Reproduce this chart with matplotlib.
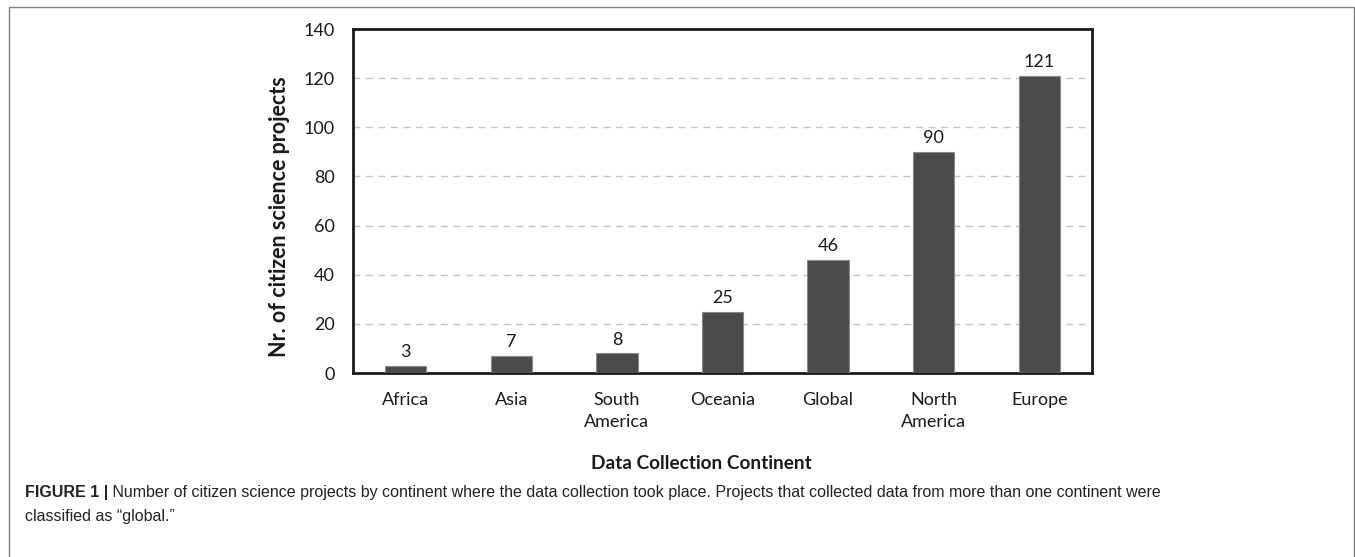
import matplotlib

matplotlib.use("Agg")
import matplotlib.pyplot as plt
from matplotlib import font_manager
from matplotlib.patches import Rectangle

# Data
continents = ["Africa", "Asia", "South\nAmerica", "Oceania", "Global", "North\nAmerica", "Europe"]
projects = [3, 7, 8, 25, 46, 90, 121]
y_ticks = [0, 20, 40, 60, 80, 100, 120, 140]

caption_bold = "FIGURE 1 |"
caption_lines = [
    " Number of citizen science projects by continent where the data collection took place. "
    "Projects that collected data from more than one continent were",
    "classified as \u201cglobal.\u201d",
]

available = {f.name for f in font_manager.fontManager.ttflist}
chart_font = "Lato" if "Lato" in available else "DejaVu Sans"
caption_font = "Liberation Sans Narrow" if "Liberation Sans Narrow" in available else "Liberation Sans"

W, H, DPI = 1355, 557, 100
fig = plt.figure(figsize=(W / DPI, H / DPI), dpi=DPI)

# outer frame of the figure panel (bottom edge runs off the image)
fig.patches.append(Rectangle((9 / W, -0.05), 1345 / W, 0.05 + 550 / H, transform=fig.transFigure,
                             fill=False, edgecolor="#7f7f7f", linewidth=1.0))

ax = fig.add_axes([353 / W, 1 - 373 / H, (1092 - 353) / W, (373 - 29) / H])
x = range(len(continents))
bars = ax.bar(x, projects, width=0.39, color="#4b4b4b", edgecolor="#8a8a8a", linewidth=0.8, zorder=3)

for rect, v in zip(bars, projects):
    ax.annotate(str(v), (rect.get_x() + rect.get_width() / 2, v), xytext=(0, 4),
                textcoords="offset points", ha="center", va="bottom",
                fontsize=13, family=chart_font, color="#1a1a1a")

ax.set_xlim(-0.5, len(continents) - 0.5)
ax.set_ylim(0, 140)
ax.set_yticks(y_ticks)
ax.set_yticklabels([str(t) for t in y_ticks], fontsize=13, family=chart_font, color="#1a1a1a")
ax.set_xticks(list(x))
ax.set_xticklabels(continents, fontsize=13, family=chart_font, color="#1a1a1a", linespacing=1.4)
ax.tick_params(axis="y", length=0, pad=13)
ax.tick_params(axis="x", length=0, pad=14)

for t in y_ticks[1:-1]:
    ax.axhline(t, color="#c4c4c4", linewidth=1.0, linestyle=(0, (5, 4)), zorder=1)

for s in ax.spines.values():
    s.set_linewidth(2.0)
    s.set_color("#1a1a1a")

ax.set_ylabel("Nr. of citizen science projects", fontsize=15.5, fontweight="bold",
              family=chart_font, color="#1a1a1a", va="center")
ax.yaxis.set_label_coords(-0.099, 0.456)
ax.set_xlabel("Data Collection Continent", fontsize=13.7, fontweight="bold",
              family=chart_font, color="#1a1a1a", va="center")
ax.xaxis.set_label_coords(0.471, -0.262)

# caption
renderer = fig.canvas.get_renderer()
y1 = 1 - 492 / H
y2 = 1 - 517 / H
tb = fig.text(25 / W, y1, caption_bold, fontsize=11.5, fontweight="bold", family=caption_font,
              color="#222222", va="center", ha="left")
bb = tb.get_window_extent(renderer)
fig.text(bb.x1 / W, y1, caption_lines[0], fontsize=11.5, family=caption_font,
         color="#222222", va="center", ha="left")
fig.text(25 / W, y2, caption_lines[1], fontsize=11.5, family=caption_font,
         color="#222222", va="center", ha="left")

fig.savefig("out.png", dpi=DPI)
plt.close(fig)
